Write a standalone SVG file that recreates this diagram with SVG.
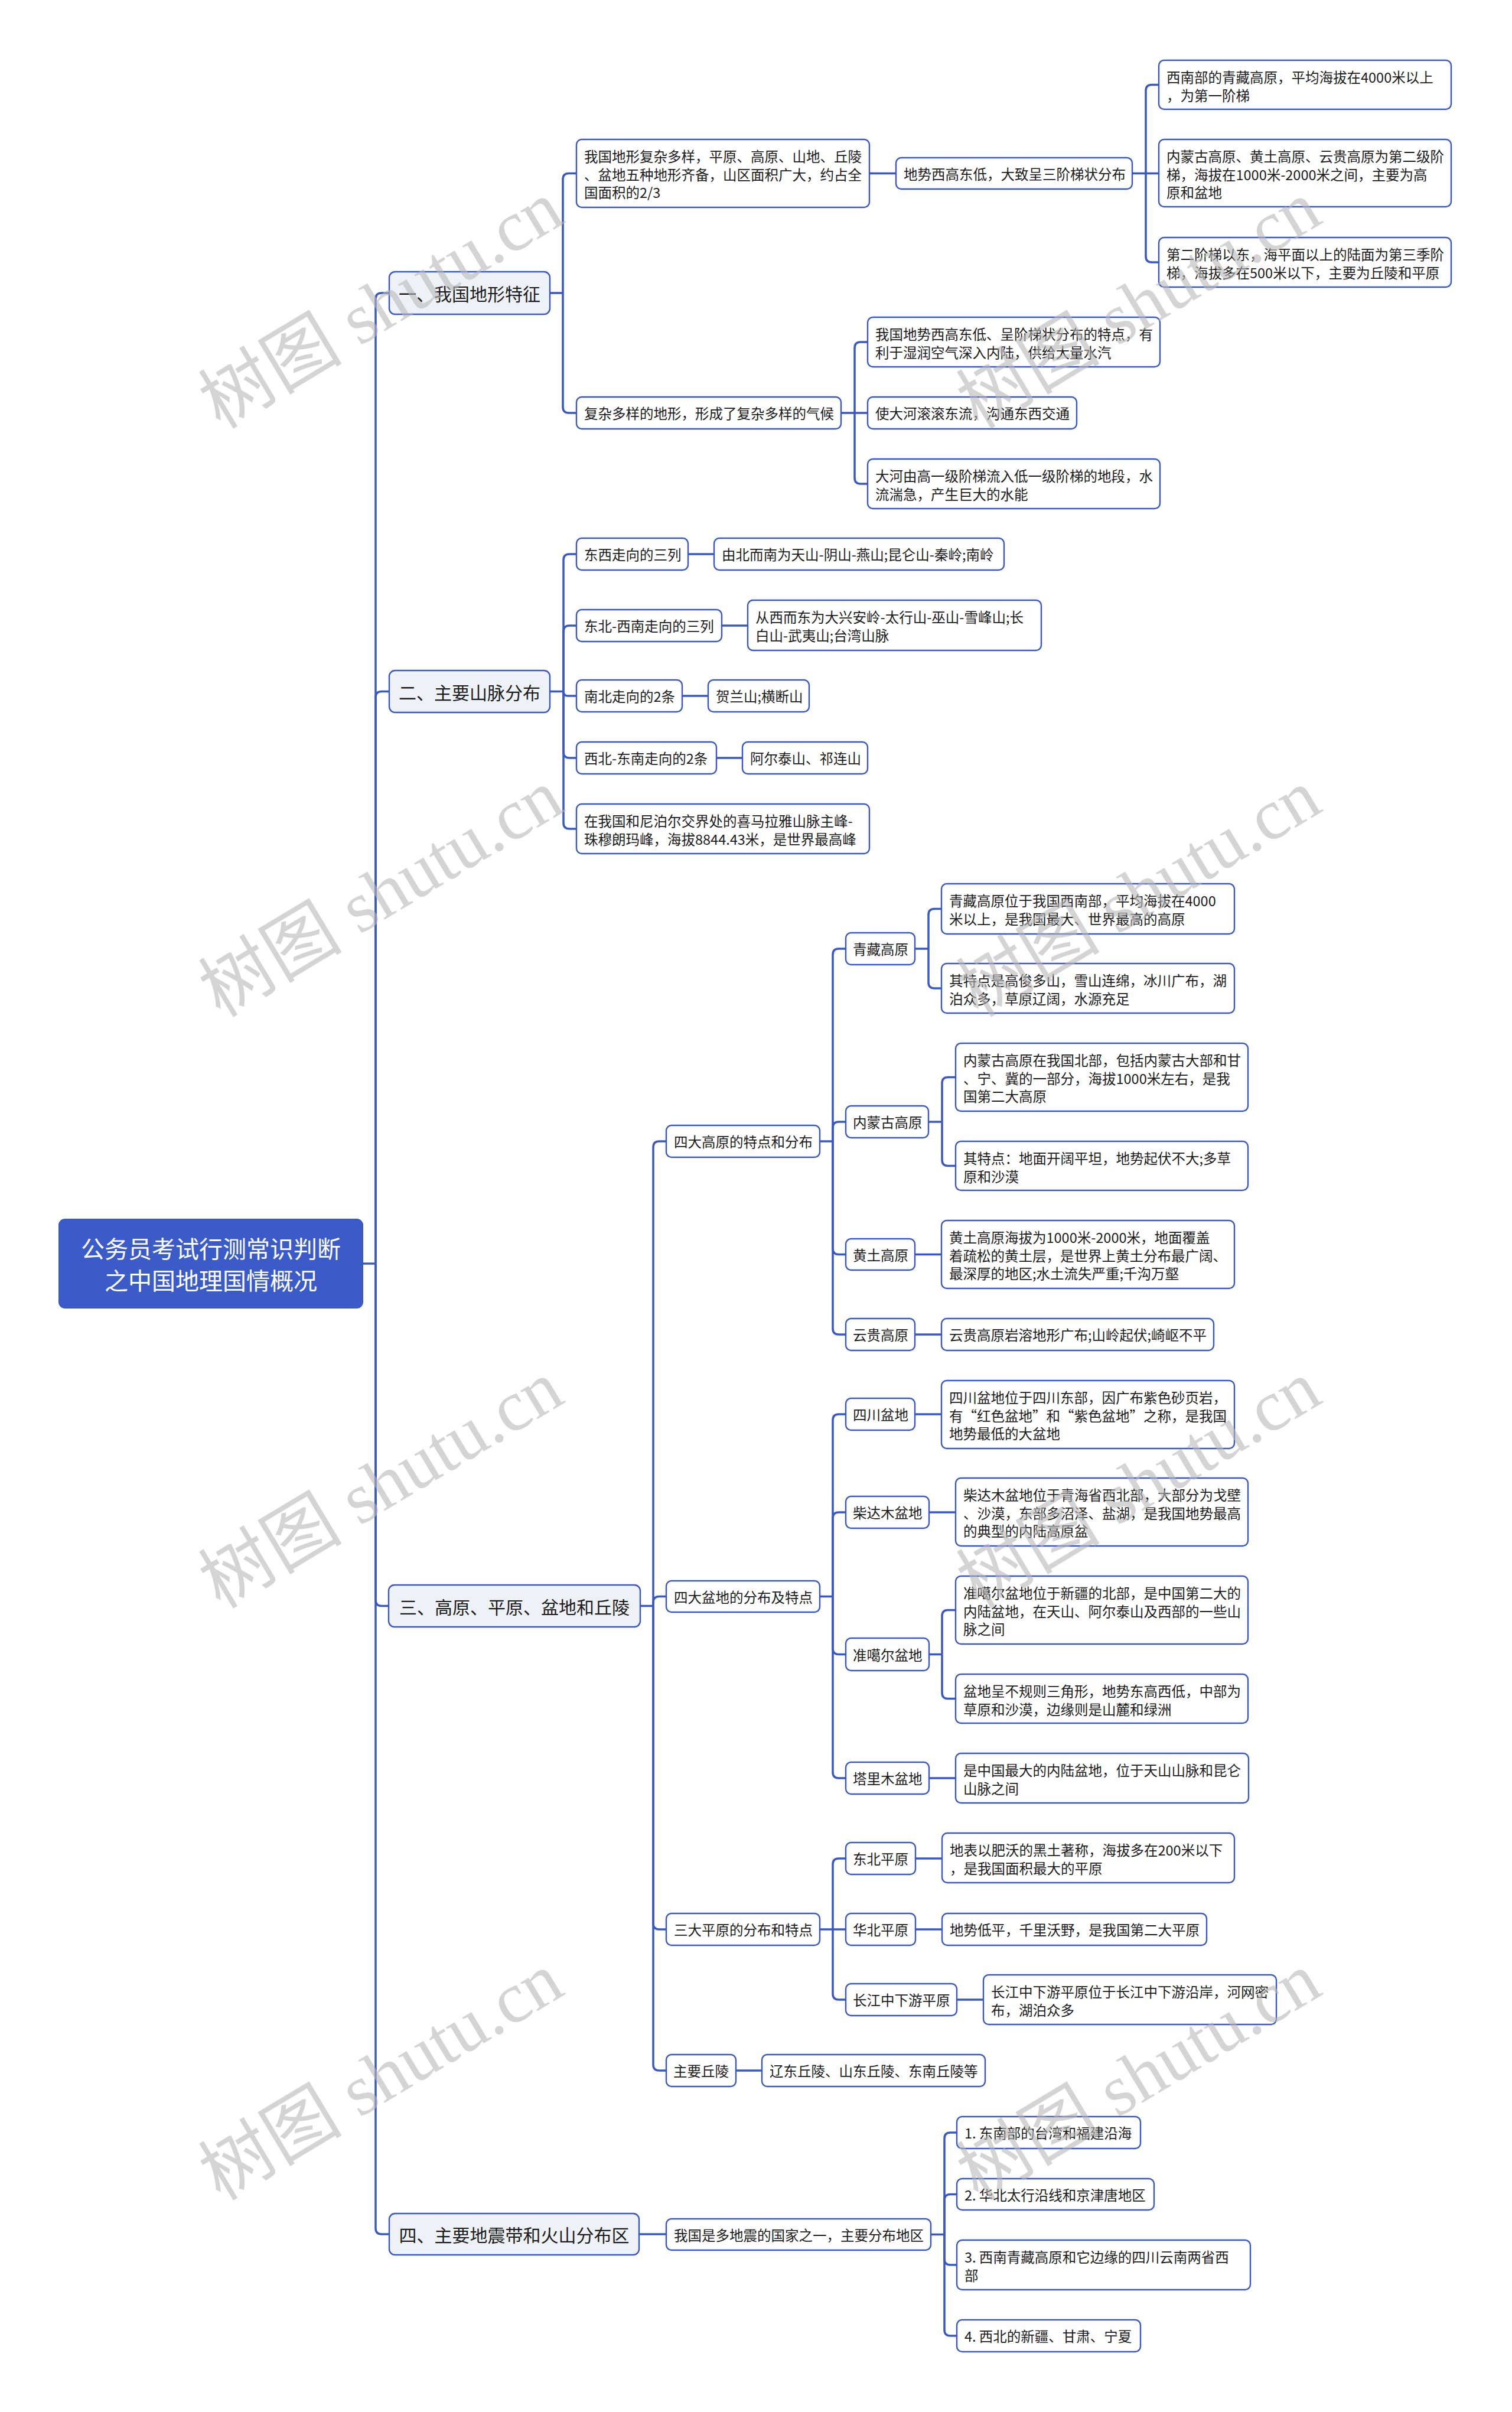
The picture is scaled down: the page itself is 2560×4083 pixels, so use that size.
<svg xmlns="http://www.w3.org/2000/svg" width="2560" height="4083" viewBox="0 0 2560 4083">
<style>
.bg{fill:#ffffff}
.n rect{fill:#ffffff;stroke:#3a58c4;stroke-width:2.4}
.l1 rect{fill:#eef2f7}
.root rect{fill:#3a5bc8;stroke:#3a58c4;stroke-width:2}
text{font-family:"Noto Sans CJK SC","Microsoft YaHei",sans-serif;dominant-baseline:central}
.t{font-size:23.5px;fill:#1c1c1c}
.t1{font-size:30px;fill:#1c1c1c;text-anchor:middle}
.tr{font-size:40px;fill:#ffffff;text-anchor:middle}
.c path{fill:none;stroke:#3a58c4;stroke-width:3.5}
.wm{font-family:"Liberation Serif","Noto Sans CJK SC",serif;font-size:122px;fill:#b8b8b8;fill-opacity:0.6;text-anchor:middle}
</style>
<rect class="bg" x="0" y="0" width="2560" height="4083"/>

<g id="connectors" class="c">
<path d="M614,2139 H636"/>
<path d="M636,2139 V506 Q636,496 646,496 H659"/>
<path d="M636,2139 V1180.5 Q636,1170.5 646,1170.5 H659"/>
<path d="M636,2139 V2708.5 Q636,2718.5 646,2718.5 H659"/>
<path d="M636,2139 V3772 Q636,3782 646,3782 H659"/>
<path d="M931,496 H953"/>
<path d="M953,496 V303.5 Q953,293.5 963,293.5 H976"/>
<path d="M953,496 V689 Q953,699 963,699 H976"/>
<path d="M1472,293.5 H1517"/>
<path d="M1917,293.5 H1940"/>
<path d="M1940,293.5 V153.5 Q1940,143.5 1950,143.5 H1962"/>
<path d="M1940,293.5 H1962"/>
<path d="M1940,293.5 V434 Q1940,444 1950,444 H1962"/>
<path d="M1424,699 H1447"/>
<path d="M1447,699 V589 Q1447,579 1457,579 H1469"/>
<path d="M1447,699 H1469"/>
<path d="M1447,699 V809 Q1447,819 1457,819 H1469"/>
<path d="M931,1170.5 H954"/>
<path d="M954,1170.5 V948 Q954,938 964,938 H976"/>
<path d="M954,1170.5 V1069 Q954,1059 964,1059 H976"/>
<path d="M954,1170.5 Q954,1178 961.5,1178 H976"/>
<path d="M954,1170.5 V1273 Q954,1283 964,1283 H976"/>
<path d="M954,1170.5 V1393 Q954,1403 964,1403 H976"/>
<path d="M1165,938 H1209"/>
<path d="M1222,1059 H1266"/>
<path d="M1155,1178 H1199"/>
<path d="M1213,1283 H1257"/>
<path d="M1084,2718.5 H1106"/>
<path d="M1106,2718.5 V1942 Q1106,1932 1116,1932 H1128"/>
<path d="M1106,2718.5 V2712.5 Q1106,2702.5 1116,2702.5 H1128"/>
<path d="M1106,2718.5 V3256 Q1106,3266 1116,3266 H1128"/>
<path d="M1106,2718.5 V3495 Q1106,3505 1116,3505 H1128"/>
<path d="M1388,1932 H1410"/>
<path d="M1410,1932 V1616 Q1410,1606 1420,1606 H1432"/>
<path d="M1410,1932 V1909 Q1410,1899 1420,1899 H1432"/>
<path d="M1410,1932 V2113.5 Q1410,2123.5 1420,2123.5 H1432"/>
<path d="M1410,1932 V2249 Q1410,2259 1420,2259 H1432"/>
<path d="M1549,1606 H1572"/>
<path d="M1572,1606 V1548.5 Q1572,1538.5 1582,1538.5 H1594"/>
<path d="M1572,1606 V1663 Q1572,1673 1582,1673 H1594"/>
<path d="M1572,1899 H1595"/>
<path d="M1595,1899 V1833.5 Q1595,1823.5 1605,1823.5 H1618"/>
<path d="M1595,1899 V1963.5 Q1595,1973.5 1605,1973.5 H1618"/>
<path d="M1549,2123.5 H1594"/>
<path d="M1549,2259 H1594"/>
<path d="M1388,2702.5 H1410"/>
<path d="M1410,2702.5 V2404 Q1410,2394 1420,2394 H1432"/>
<path d="M1410,2702.5 V2570 Q1410,2560 1420,2560 H1432"/>
<path d="M1410,2702.5 V2790.5 Q1410,2800.5 1420,2800.5 H1432"/>
<path d="M1410,2702.5 V3000 Q1410,3010 1420,3010 H1432"/>
<path d="M1549,2394 H1594"/>
<path d="M1573,2560 H1618"/>
<path d="M1573,2800.5 H1595"/>
<path d="M1595,2800.5 V2735.5 Q1595,2725.5 1605,2725.5 H1618"/>
<path d="M1595,2800.5 V2865.5 Q1595,2875.5 1605,2875.5 H1618"/>
<path d="M1573,3010 H1618"/>
<path d="M1388,3266 H1410"/>
<path d="M1410,3266 V3156 Q1410,3146 1420,3146 H1432"/>
<path d="M1410,3266 H1432"/>
<path d="M1410,3266 V3375 Q1410,3385 1420,3385 H1432"/>
<path d="M1550,3146 H1595"/>
<path d="M1550,3266 H1595"/>
<path d="M1620,3385 H1665"/>
<path d="M1246,3505 H1290"/>
<path d="M1082,3782 H1128"/>
<path d="M1576,3782.5 H1599"/>
<path d="M1599,3782.5 V3620 Q1599,3610 1609,3610 H1620"/>
<path d="M1599,3782.5 V3724.5 Q1599,3714.5 1609,3714.5 H1620"/>
<path d="M1599,3782.5 V3824 Q1599,3834 1609,3834 H1620"/>
<path d="M1599,3782.5 V3944 Q1599,3954 1609,3954 H1620"/>
</g>

<g id="root" class="root"><rect x="100" y="2064" width="514" height="150" rx="10"/><text class="tr"><tspan x="357" y="2112">公务员考试行测常识判断</tspan><tspan x="357" y="2166">之中国地理国情概况</tspan></text></g>

<g id="n1" class="n l1"><rect x="659" y="460" width="272" height="72" rx="10"/><text class="t1" x="795" y="496">一、我国地形特征</text></g>
<g id="n2" class="n l1"><rect x="659" y="1135" width="272" height="71" rx="10"/><text class="t1" x="795" y="1170.5">二、主要山脉分布</text></g>
<g id="n3" class="n l1"><rect x="658" y="2683" width="426" height="71" rx="10"/><text class="t1" x="871" y="2718.5">三、高原、平原、盆地和丘陵</text></g>
<g id="n4" class="n l1"><rect x="659" y="3747" width="423" height="70" rx="10"/><text class="t1" x="870.5" y="3782">四、主要地震带和火山分布区</text></g>

<g id="a1" class="n"><rect x="976" y="236" width="496" height="115" rx="9"/><text class="t"><tspan x="989" y="264">我国地形复杂多样，平原、高原、山地、丘陵</tspan><tspan x="989" y="294.5">、盆地五种地形齐备，山区面积广大，约占全</tspan><tspan x="989" y="325">国面积的2/3</tspan></text></g>
<g id="a11" class="n"><rect x="1517" y="267" width="400" height="53" rx="9"/><text class="t" x="1530" y="293.5">地势西高东低，大致呈三阶梯状分布</text></g>
<g id="a111" class="n"><rect x="1962" y="102" width="495" height="83" rx="9"/><text class="t"><tspan x="1975" y="130">西南部的青藏高原，平均海拔在4000米以上</tspan><tspan x="1975" y="160.5">，为第一阶梯</tspan></text></g>
<g id="a112" class="n"><rect x="1962" y="236" width="495" height="114" rx="9"/><text class="t"><tspan x="1975" y="264">内蒙古高原、黄土高原、云贵高原为第二级阶</tspan><tspan x="1975" y="294.5">梯，海拔在1000米-2000米之间，主要为高</tspan><tspan x="1975" y="325">原和盆地</tspan></text></g>
<g id="a113" class="n"><rect x="1962" y="402" width="495" height="84" rx="9"/><text class="t"><tspan x="1975" y="430">第二阶梯以东，海平面以上的陆面为第三季阶</tspan><tspan x="1975" y="460.5">梯，海拔多在500米以下，主要为丘陵和平原</tspan></text></g>
<g id="a2" class="n"><rect x="976" y="672" width="448" height="54" rx="9"/><text class="t" x="989" y="699">复杂多样的地形，形成了复杂多样的气候</text></g>
<g id="a21" class="n"><rect x="1469" y="537" width="495" height="84" rx="9"/><text class="t"><tspan x="1482" y="565">我国地势西高东低、呈阶梯状分布的特点，有</tspan><tspan x="1482" y="595.5">利于湿润空气深入内陆，供给大量水汽</tspan></text></g>
<g id="a22" class="n"><rect x="1469" y="672" width="354" height="54" rx="9"/><text class="t" x="1482" y="699">使大河滚滚东流，沟通东西交通</text></g>
<g id="a23" class="n"><rect x="1469" y="777" width="495" height="84" rx="9"/><text class="t"><tspan x="1482" y="805">大河由高一级阶梯流入低一级阶梯的地段，水</tspan><tspan x="1482" y="835.5">流湍急，产生巨大的水能</tspan></text></g>

<g id="b1" class="n"><rect x="976" y="911" width="189" height="54" rx="9"/><text class="t" x="989" y="938">东西走向的三列</text></g>
<g id="b1c" class="n"><rect x="1209" y="911" width="491" height="54" rx="9"/><text class="t" x="1222" y="938">由北而南为天山-阴山-燕山;昆仑山-秦岭;南岭</text></g>
<g id="b2" class="n"><rect x="976" y="1032" width="246" height="54" rx="9"/><text class="t" x="989" y="1059">东北-西南走向的三列</text></g>
<g id="b2c" class="n"><rect x="1266" y="1016" width="497" height="85" rx="9"/><text class="t"><tspan x="1279" y="1044">从西而东为大兴安岭-太行山-巫山-雪峰山;长</tspan><tspan x="1279" y="1074.5">白山-武夷山;台湾山脉</tspan></text></g>
<g id="b3" class="n"><rect x="976" y="1151" width="179" height="54" rx="9"/><text class="t" x="989" y="1178">南北走向的2条</text></g>
<g id="b3c" class="n"><rect x="1199" y="1151" width="171" height="54" rx="9"/><text class="t" x="1212" y="1178">贺兰山;横断山</text></g>
<g id="b4" class="n"><rect x="976" y="1256" width="237" height="54" rx="9"/><text class="t" x="989" y="1283">西北-东南走向的2条</text></g>
<g id="b4c" class="n"><rect x="1257" y="1256" width="212" height="54" rx="9"/><text class="t" x="1270" y="1283">阿尔泰山、祁连山</text></g>
<g id="b5" class="n"><rect x="976" y="1361" width="496" height="84" rx="9"/><text class="t"><tspan x="989" y="1389">在我国和尼泊尔交界处的喜马拉雅山脉主峰-</tspan><tspan x="989" y="1419.5">珠穆朗玛峰，海拔8844.43米，是世界最高峰</tspan></text></g>

<g id="c1" class="n"><rect x="1128" y="1905" width="260" height="54" rx="9"/><text class="t" x="1141" y="1932">四大高原的特点和分布</text></g>
<g id="c11" class="n"><rect x="1432" y="1579" width="117" height="54" rx="9"/><text class="t" x="1444" y="1606">青藏高原</text></g>
<g id="c111" class="n"><rect x="1594" y="1496" width="496" height="85" rx="9"/><text class="t"><tspan x="1607" y="1524">青藏高原位于我国西南部，平均海拔在4000</tspan><tspan x="1607" y="1554.5">米以上，是我国最大、世界最高的高原</tspan></text></g>
<g id="c112" class="n"><rect x="1594" y="1631" width="496" height="84" rx="9"/><text class="t"><tspan x="1607" y="1659">其特点是高俊多山，雪山连绵，冰川广布，湖</tspan><tspan x="1607" y="1689.5">泊众多，草原辽阔，水源充足</tspan></text></g>
<g id="c12" class="n"><rect x="1432" y="1872" width="140" height="54" rx="9"/><text class="t" x="1444" y="1899">内蒙古高原</text></g>
<g id="c121" class="n"><rect x="1618" y="1766" width="495" height="115" rx="9"/><text class="t"><tspan x="1631" y="1794">内蒙古高原在我国北部，包括内蒙古大部和甘</tspan><tspan x="1631" y="1824.5">、宁、冀的一部分，海拔1000米左右，是我</tspan><tspan x="1631" y="1855">国第二大高原</tspan></text></g>
<g id="c122" class="n"><rect x="1618" y="1932" width="495" height="83" rx="9"/><text class="t"><tspan x="1631" y="1960">其特点：地面开阔平坦，地势起伏不大;多草</tspan><tspan x="1631" y="1990.5">原和沙漠</tspan></text></g>
<g id="c13" class="n"><rect x="1432" y="2097" width="117" height="53" rx="9"/><text class="t" x="1444" y="2123.5">黄土高原</text></g>
<g id="c131" class="n"><rect x="1594" y="2066" width="496" height="115" rx="9"/><text class="t"><tspan x="1607" y="2094">黄土高原海拔为1000米-2000米，地面覆盖</tspan><tspan x="1607" y="2124.5">着疏松的黄土层，是世界上黄土分布最广阔、</tspan><tspan x="1607" y="2155">最深厚的地区;水土流失严重;千沟万壑</tspan></text></g>
<g id="c14" class="n"><rect x="1432" y="2232" width="117" height="54" rx="9"/><text class="t" x="1444" y="2259">云贵高原</text></g>
<g id="c141" class="n"><rect x="1594" y="2232" width="461" height="54" rx="9"/><text class="t" x="1607" y="2259">云贵高原岩溶地形广布;山岭起伏;崎岖不平</text></g>

<g id="c2" class="n"><rect x="1128" y="2676" width="260" height="53" rx="9"/><text class="t" x="1141" y="2702.5">四大盆地的分布及特点</text></g>
<g id="c21" class="n"><rect x="1432" y="2367" width="117" height="54" rx="9"/><text class="t" x="1444" y="2394">四川盆地</text></g>
<g id="c211" class="n"><rect x="1594" y="2337" width="496" height="115" rx="9"/><text class="t"><tspan x="1607" y="2365">四川盆地位于四川东部，因广布紫色砂页岩，</tspan><tspan x="1607" y="2395.5">有“红色盆地”和“紫色盆地”之称，是我国</tspan><tspan x="1607" y="2426">地势最低的大盆地</tspan></text></g>
<g id="c22" class="n"><rect x="1432" y="2533" width="141" height="54" rx="9"/><text class="t" x="1444" y="2560">柴达木盆地</text></g>
<g id="c221" class="n"><rect x="1618" y="2502" width="495" height="115" rx="9"/><text class="t"><tspan x="1631" y="2530">柴达木盆地位于青海省西北部，大部分为戈壁</tspan><tspan x="1631" y="2560.5">、沙漠，东部多沼泽、盐湖，是我国地势最高</tspan><tspan x="1631" y="2591">的典型的内陆高原盆</tspan></text></g>
<g id="c23" class="n"><rect x="1432" y="2773" width="141" height="55" rx="9"/><text class="t" x="1444" y="2800.5">准噶尔盆地</text></g>
<g id="c231" class="n"><rect x="1618" y="2668" width="495" height="115" rx="9"/><text class="t"><tspan x="1631" y="2696">准噶尔盆地位于新疆的北部，是中国第二大的</tspan><tspan x="1631" y="2726.5">内陆盆地，在天山、阿尔泰山及西部的一些山</tspan><tspan x="1631" y="2757">脉之间</tspan></text></g>
<g id="c232" class="n"><rect x="1618" y="2834" width="495" height="83" rx="9"/><text class="t"><tspan x="1631" y="2862">盆地呈不规则三角形，地势东高西低，中部为</tspan><tspan x="1631" y="2892.5">草原和沙漠，边缘则是山麓和绿洲</tspan></text></g>
<g id="c24" class="n"><rect x="1432" y="2983" width="141" height="54" rx="9"/><text class="t" x="1444" y="3010">塔里木盆地</text></g>
<g id="c241" class="n"><rect x="1618" y="2968" width="496" height="84" rx="9"/><text class="t"><tspan x="1631" y="2996">是中国最大的内陆盆地，位于天山山脉和昆仑</tspan><tspan x="1631" y="3026.5">山脉之间</tspan></text></g>

<g id="c3" class="n"><rect x="1128" y="3239" width="260" height="54" rx="9"/><text class="t" x="1141" y="3266">三大平原的分布和特点</text></g>
<g id="c31" class="n"><rect x="1432" y="3119" width="118" height="54" rx="9"/><text class="t" x="1444" y="3146">东北平原</text></g>
<g id="c311" class="n"><rect x="1595" y="3103" width="495" height="84" rx="9"/><text class="t"><tspan x="1608" y="3131">地表以肥沃的黑土著称，海拔多在200米以下</tspan><tspan x="1608" y="3161.5">，是我国面积最大的平原</tspan></text></g>
<g id="c32" class="n"><rect x="1432" y="3239" width="118" height="54" rx="9"/><text class="t" x="1444" y="3266">华北平原</text></g>
<g id="c321" class="n"><rect x="1595" y="3239" width="448" height="54" rx="9"/><text class="t" x="1608" y="3266">地势低平，千里沃野，是我国第二大平原</text></g>
<g id="c33" class="n"><rect x="1432" y="3358" width="188" height="54" rx="9"/><text class="t" x="1444" y="3385">长江中下游平原</text></g>
<g id="c331" class="n"><rect x="1665" y="3343" width="496" height="84" rx="9"/><text class="t"><tspan x="1678" y="3371">长江中下游平原位于长江中下游沿岸，河网密</tspan><tspan x="1678" y="3401.5">布，湖泊众多</tspan></text></g>
<g id="c4" class="n"><rect x="1128" y="3478" width="118" height="54" rx="9"/><text class="t" x="1140" y="3505">主要丘陵</text></g>
<g id="c41" class="n"><rect x="1290" y="3478" width="378" height="54" rx="9"/><text class="t" x="1303" y="3505">辽东丘陵、山东丘陵、东南丘陵等</text></g>

<g id="d1" class="n"><rect x="1128" y="3756" width="448" height="53" rx="9"/><text class="t" x="1141" y="3782.5">我国是多地震的国家之一，主要分布地区</text></g>
<g id="d11" class="n"><rect x="1620" y="3583" width="311" height="54" rx="9"/><text class="t" x="1633" y="3610">1. 东南部的台湾和福建沿海</text></g>
<g id="d12" class="n"><rect x="1620" y="3688" width="334" height="53" rx="9"/><text class="t" x="1633" y="3714.5">2. 华北太行沿线和京津唐地区</text></g>
<g id="d13" class="n"><rect x="1620" y="3792" width="497" height="84" rx="9"/><text class="t"><tspan x="1633" y="3820">3. 西南青藏高原和它边缘的四川云南两省西</tspan><tspan x="1633" y="3850.5">部</tspan></text></g>
<g id="d14" class="n"><rect x="1620" y="3927" width="311" height="54" rx="9"/><text class="t" x="1633" y="3954">4. 西北的新疆、甘肃、宁夏</text></g>

<g id="watermarks">
<text class="wm" x="645" y="516" transform="rotate(-31 645 516)">树图 shutu.cn</text>
<text class="wm" x="645" y="1512" transform="rotate(-31 645 1512)">树图 shutu.cn</text>
<text class="wm" x="645" y="2513" transform="rotate(-31 645 2513)">树图 shutu.cn</text>
<text class="wm" x="645" y="3515" transform="rotate(-31 645 3515)">树图 shutu.cn</text>
<text class="wm" x="1928" y="516" transform="rotate(-31 1928 516)">树图 shutu.cn</text>
<text class="wm" x="1928" y="1512" transform="rotate(-31 1928 1512)">树图 shutu.cn</text>
<text class="wm" x="1928" y="2513" transform="rotate(-31 1928 2513)">树图 shutu.cn</text>
<text class="wm" x="1928" y="3515" transform="rotate(-31 1928 3515)">树图 shutu.cn</text>
</g>
</svg>
